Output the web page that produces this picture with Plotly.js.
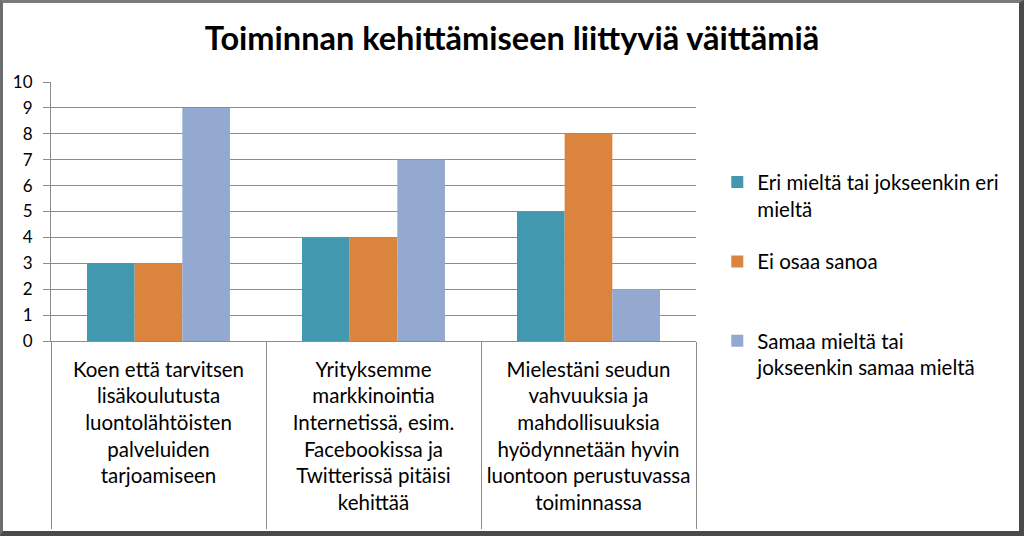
<!DOCTYPE html>
<html><head><meta charset="utf-8">
<script src="https://cdn.plot.ly/plotly-3.0.1.min.js"></script>
<style>
html,body{margin:0;padding:0;background:#fff;}
#wrap{position:relative;width:1024px;height:536px;overflow:hidden;}
#chart{position:absolute;left:0;top:0;width:1024px;height:536px;}
#frame{position:absolute;left:0;top:0;width:1024px;height:536px;box-sizing:border-box;
 border-left:3px solid #6e6e6e;border-top:3px solid #7a7a7a;border-right:5px solid #4a4a4a;border-bottom:5px solid #4a4a4a;pointer-events:none;}
</style></head>
<body><div id="wrap"><div id="chart"></div><div id="frame"></div></div>
<script>
const categories = [
  "Koen että tarvitsen<br>lisäkoulutusta<br>luontolähtöisten<br>palveluiden<br>tarjoamiseen",
  "Yrityksemme<br>markkinointia<br>Internetissä, esim.<br>Facebookissa ja<br>Twitterissä pitäisi<br>kehittää",
  "Mielestäni seudun<br>vahvuuksia ja<br>mahdollisuuksia<br>hyödynnetään hyvin<br>luontoon perustuvassa<br>toiminnassa"
];
const seriesNames = [
  "Eri mieltä tai jokseenkin eri<br>mieltä",
  "Ei osaa sanoa<br> ",
  "Samaa mieltä tai<br>jokseenkin samaa mieltä"
];
const eriMielta = [3, 4, 5];
const eiOsaa = [3, 4, 8];
const samaaMielta = [9, 7, 2];
const colors = ["#4198AF", "#DB843D", "#93A9CF"];
const yTicks = [0,1,2,3,4,5,6,7,8,9,10];

const values = [eriMielta, eiOsaa, samaaMielta];
const traces = values.map((v, i) => ({
  type: "bar",
  x: categories,
  y: v,
  name: seriesNames[i],
  legendgroup: "g" + i,
  marker: {color: colors[i], line: {width: 0}},
  hoverinfo: "y"
}));

const font = "Lato, 'Open Sans', sans-serif";
const layout = {
  width: 1024, height: 536,
  margin: {l: 51, r: 328, t: 82, b: 195, autoexpand: false},
  paper_bgcolor: "#ffffff", plot_bgcolor: "#ffffff",
  font: {family: font, color: "#000", size: 20},
  title: {text: "Toiminnan kehittämiseen liittyviä väittämiä", x: 0.5, xref: "container", xanchor: "center",
    y: 0.928, yref: "container", yanchor: "middle", font: {family: font, size: 32.5, weight: 700, color: "#000"}},
  barmode: "group", bargap: 0.335, bargroupgap: 0,
  xaxis: {
    type: "category", tickson: "boundaries", ticks: "outside", ticklen: 187, tickwidth: 1, tickcolor: "#8c8c8c",
    showline: true, linecolor: "#8c8c8c", linewidth: 1, showgrid: false, automargin: false,
    ticklabelstandoff: 10, tickfont: {family: font, size: 20.5, color: "#000"}, fixedrange: true
  },
  yaxis: {
    range: [0, 10], tickvals: yTicks, ticktext: yTicks.map(String), ticks: "outside", ticklen: 7, tickcolor: "#8c8c8c",
    showline: true, linecolor: "#8c8c8c", linewidth: 1, showgrid: true, gridcolor: "#8c8c8c", gridwidth: 1,
    zeroline: false, automargin: false, ticklabelstandoff: 7, tickfont: {family: font, size: 17, color: "#000"}, fixedrange: true
  },
  legend: {x: 1.033, xanchor: "left", y: 0.69, yanchor: "top", valign: "top", tracegroupgap: 23,
    font: {family: font, size: 20.5, color: "#000"}, bgcolor: "rgba(0,0,0,0)", itemclick: false},
  showlegend: true
};
Plotly.newPlot("chart", traces, layout, {displayModeBar: false, staticPlot: true});
</script></body></html>
